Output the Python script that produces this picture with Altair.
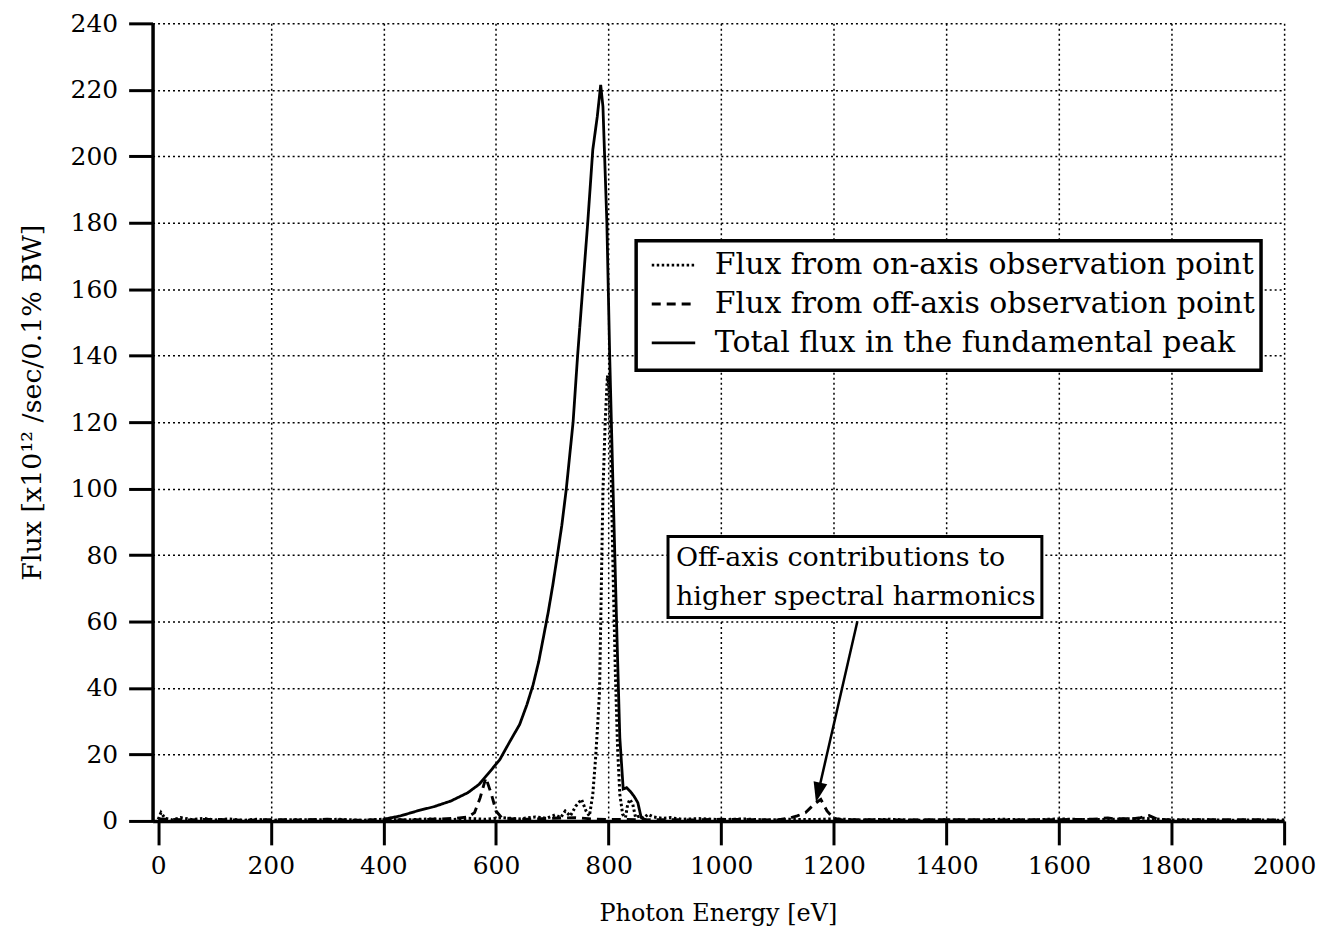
import altair as alt
import pandas as pd

# ---------------- data ----------------
SERIES = [
    "Flux from on-axis observation point",
    "Flux from off-axis observation point",
    "Total flux in the fundamental peak",
]

ON_E = [0, 5, 12, 25, 40, 60, 80, 100, 125, 150,
        175, 200, 240, 280, 320, 360, 400, 440, 480, 520,
        550, 580, 610, 640, 670, 690, 705, 715, 723, 732,
        742, 752, 760, 766, 772, 777, 781, 784, 787, 790,
        794, 798, 801, 804, 808, 812, 816, 820, 825, 830,
        834, 838, 843, 848, 855, 862, 870, 880, 895, 910,
        930, 960, 1000, 1040, 1080, 1120, 1160, 1200, 1250, 1300,
        1350, 1400, 1450, 1500, 1550, 1600, 1650, 1700, 1750, 1800,
        1850, 1900, 1950, 2000]
ON_F = [0.5, 2.5, 0.8, 0.3, 1.0, 0.4, 0.8, 0.3, 0.6, 0.2,
        0.5, 0.2, 0.4, 0.3, 0.5, 0.2, 0.5, 0.3, 0.6, 0.4,
        0.8, 0.5, 1.0, 0.6, 1.2, 0.8, 1.8, 1.0, 3.0, 1.5,
        4.5, 6.5, 3.0, 1.5, 8, 19, 30, 39, 69, 99,
        120, 134, 130, 110, 75, 45, 22, 8, 2, 1,
        5, 6.5, 5, 1, 1.5, 0.8, 2, 1.2, 0.8, 1.0,
        0.5, 0.7, 0.4, 0.6, 0.3, 0.5, 0.4, 0.6, 0.3, 0.5,
        0.2, 0.4, 0.3, 0.5, 0.3, 0.6, 0.4, 0.5, 0.8, 0.3,
        0.4, 0.2, 0.3, 0.2]

OFF_E = [0, 50, 100, 150, 200, 250, 300, 350, 400, 450,
         500, 530, 550, 562, 572, 582, 592, 600, 610, 630,
         660, 700, 740, 770, 800, 830, 860, 900, 950, 1000,
         1050, 1100, 1120, 1135, 1150, 1165, 1177, 1188, 1200, 1215,
         1250, 1300, 1400, 1500, 1600, 1660, 1687, 1700, 1715, 1730,
         1745, 1760, 1775, 1800, 1900, 2000]
OFF_F = [0.6, 0.3, 0.5, 0.2, 0.4, 0.3, 0.5, 0.2, 0.4, 0.3,
         0.6, 0.8, 1.2, 2.5, 7, 13, 8, 3, 1, 0.6,
         0.5, 0.8, 1.0, 0.6, 0.4, 0.5, 0.3, 0.4, 0.3, 0.5,
         0.4, 0.3, 0.8, 1.5, 2.5, 5, 6.5, 3, 0.8, 0.3,
         0.4, 0.3, 0.4, 0.3, 0.4, 0.5, 0.9, 0.6, 0.7, 0.6,
         1.0, 1.6, 0.5, 0.3, 0.4, 0.3]

TOT_E = [400, 430, 460, 490, 520, 550, 570, 590,
         607, 625, 642, 655, 666, 676, 684, 693, 701, 710,
         717, 725, 737, 745, 754, 763, 772, 780, 786, 790,
         797, 802, 808, 815, 820, 826, 832, 838, 845, 852,
         858, 870]
TOT_F = [0.5, 1.5, 3, 4.3, 6, 8.5, 11, 15,
         18.5, 24, 29, 35, 41, 48, 55, 63, 71, 81,
         89, 100, 120, 140, 160, 180, 202, 212, 221.5, 215,
         180, 140, 100, 55, 25, 9.6, 10, 9, 7.5, 5.5,
         1, 0]

X_TICKS = list(range(0, 2001, 200))
Y_TICKS = list(range(0, 241, 20))

NOTE_LINES = ["Off-axis contributions to", "higher spectral harmonics"]

assert len(ON_E) == len(ON_F) and len(OFF_E) == len(OFF_F) and len(TOT_E) == len(TOT_F)

rows = []
for name, es, fs in zip(SERIES, [ON_E, OFF_E, TOT_E], [ON_F, OFF_F, TOT_F]):
    for e, f in zip(es, fs):
        rows.append({"E": e, "F": f, "series": name})
df = pd.DataFrame(rows)

# annotation / frame geometry (data units)
legend_frame_df = pd.DataFrame([{"E": 849, "E2": 1959, "F": 174.6, "F2": 135.6}])
box_df = pd.DataFrame([{"E": 905.6, "E2": 1569.7, "F": 85.6, "F2": 61.2}])
note_df = pd.DataFrame({"E": [919.8, 919.8], "F": [79.2, 67.5], "t": NOTE_LINES})
arrow_df = pd.DataFrame([{"E": 1242, "F": 60.1, "E2": 1172.4, "F2": 8.55}])
head_df = pd.DataFrame([{"E": 1172.4, "F": 8.55}])

FONT = "DejaVu Serif"

x_scale = alt.Scale(domain=[-10, 2000], nice=False, zero=False)
y_scale = alt.Scale(domain=[0, 240], nice=False, zero=False)

common_axis = dict(
    domainColor="black", domainWidth=3.5,
    tickColor="black", tickWidth=3, tickSize=24,
    labelFont=FONT, labelFontSize=25, labelColor="black",
    labelFlush=False, labelOverlap=False, labelBound=False,
    grid=True, gridColor="black", gridDash=[2, 3], gridWidth=1.5,
    gridOpacity={"condition": {"test": "datum.value === 0", "value": 0}, "value": 1},
    titleFont=FONT, titleFontWeight="normal", titleColor="black",
)

x_axis = alt.Axis(values=X_TICKS, format="d", title="Photon Energy [eV]", labelPadding=9,
                  titleFontSize=24,
                  titleX=567, titleY=93, titleBaseline="middle", titleAlign="center",
                  **common_axis)
y_axis = alt.Axis(values=Y_TICKS, format="d", title="Flux [x10¹²  /sec/0.1% BW]",
                  labelPadding=11, titleFontSize=27,
                  titleX=-120, titleY=380, titleBaseline="middle", titleAlign="center",
                  titleAngle=-90, **common_axis)

X = alt.X("E:Q", scale=x_scale, axis=x_axis)
Y = alt.Y("F:Q", scale=y_scale, axis=y_axis)

legend_frame = alt.Chart(legend_frame_df).mark_rect(
    fill="white", stroke="black", strokeWidth=3.5
).encode(x=X, x2=alt.X2("E2"), y=Y, y2=alt.Y2("F2"))

lines = alt.Chart(df).mark_line(color="black", strokeCap="butt").encode(
    x=X, y=Y,
    strokeDash=alt.StrokeDash(
        "series:N",
        scale=alt.Scale(domain=SERIES, range=[[2.5, 2.5], [9, 6], [1, 0]]),
        legend=alt.Legend(
            title=None, orient="none", legendX=499, legendY=219,
            direction="vertical", symbolType="stroke", symbolSize=1900,
            symbolStrokeWidth=2.5, symbolStrokeColor="black",
            labelFont=FONT, labelFontSize=30, labelColor="black", labelLimit=0,
            labelOffset=18, padding=0, rowPadding=0,
        ),
    ),
    strokeWidth=alt.StrokeWidth(
        "series:N", scale=alt.Scale(domain=SERIES, range=[3, 2.8, 4]), legend=None
    ),
)

box = alt.Chart(box_df).mark_rect(fill="white", stroke="black", strokeWidth=3).encode(
    x=X, x2=alt.X2("E2"), y=Y, y2=alt.Y2("F2")
)
note = alt.Chart(note_df).mark_text(
    align="left", baseline="middle", font=FONT, fontSize=27, color="black"
).encode(x=X, y=Y, text="t:N")
arrow = alt.Chart(arrow_df).mark_rule(color="black", strokeWidth=2.5).encode(
    x=X, x2=alt.X2("E2"), y=Y, y2=alt.Y2("F2")
)
head = alt.Chart(head_df).mark_point(
    shape="M-0.7,-1L0.7,-1L0,1Z", size=400, filled=True, color="black",
    opacity=1, angle=12.9
).encode(x=X, y=Y)

chart = alt.layer(legend_frame, lines, box, note, arrow, head).properties(
    width=1135, height=800,
    autosize=alt.AutoSizeParams(type="none"),
    padding={"left": 145, "top": 14, "right": 40, "bottom": 110},
    background="white",
).configure_view(stroke=None)

chart.save("out.html", embed_options={"renderer": "svg", "actions": False})
